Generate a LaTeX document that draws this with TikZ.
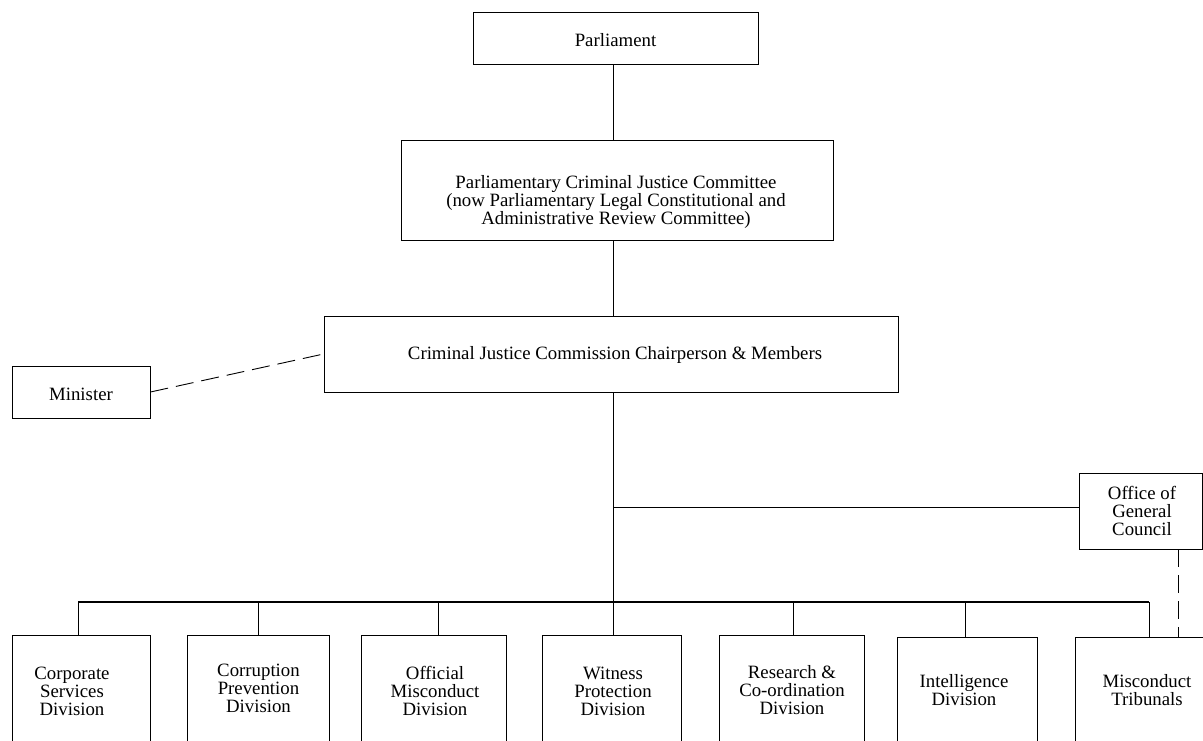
\documentclass[tikz,border=0pt]{standalone}
\usepackage{fontspec}
\setmainfont{Liberation Serif}
\begin{document}
\begin{tikzpicture}[x=1pt,y=-1pt,
  box/.style={draw=black, line width=0.9pt, inner sep=0pt, rectangle},
  txt/.style={inner sep=0pt, align=center, font=\fontsize{18.8}{18}\selectfont},
  link/.style={draw=black, line width=0.9pt},
  busline/.style={draw=black, line width=1.6pt},
  dashlink/.style={draw=black, line width=0.9pt, dash pattern=on 18pt off 8pt}]
\useasboundingbox (0,0) rectangle (1203,740);
\clip (0,0) rectangle (1203,740);

% boxes
\node[box, minimum width=285pt, minimum height=52pt] (parl) at (615.5,38) {};
\node[box, minimum width=432pt, minimum height=100pt] (pcjc) at (617,190) {};
\node[box, minimum width=574pt, minimum height=76pt] (cjc) at (611,354) {};
\node[box, minimum width=138pt, minimum height=52pt] (min) at (81,392) {};
\node[box, minimum width=123pt, minimum height=76pt] (ogc) at (1140.5,511) {};
\node[box, minimum width=138pt, minimum height=110pt] (cs) at (81,690) {};
\node[box, minimum width=142pt, minimum height=110pt] (cp) at (258,690) {};
\node[box, minimum width=145pt, minimum height=110pt] (om) at (433.5,690) {};
\node[box, minimum width=139pt, minimum height=110pt] (wp) at (611.5,690) {};
\node[box, minimum width=145pt, minimum height=110pt] (rc) at (791.5,690) {};
\node[box, minimum width=140pt, minimum height=108pt] (id) at (967,691) {};
\node[box, minimum width=146pt, minimum height=108pt] (mt) at (1148,691) {};

% texts
\node[txt] (parl-t) at (615.5,40) {Parliament};
\node[txt] (pcjc-t) at (616,202) {Parliamentary Criminal Justice Committee\\(now Parliamentary Legal Constitutional and\\Administrative Review Committee)};
\node[txt] (cjc-t) at (615,355) {Criminal Justice Commission Chairperson \& Members};
\node[txt] (min-t) at (81,394) {Minister};
\node[txt] (ogc-t) at (1142,511) {Office of\\General\\Council};
\node[txt] (cs-t) at (72,691) {Corporate\\Services\\Division};
\node[txt] (cp-t) at (258.5,688) {Corruption\\Prevention\\Division};
\node[txt] (om-t) at (435,691) {Official\\Misconduct\\Division};
\node[txt] (wp-t) at (613,691) {Witness\\Protection\\Division};
\node[txt] (rc-t) at (792,690) {Research \&\\Co-ordination\\Division};
\node[txt] (id-t) at (964,690) {Intelligence\\Division};
\node[txt] (mt-t) at (1147,690) {Misconduct\\Tribunals};

% helper coordinates
\coordinate (tx) at (613,0);
\coordinate (og) at (613,507);
\coordinate (dx) at (1178,0);
\coordinate (b1) at (78,602);
\coordinate (b2) at (258,602);
\coordinate (b3) at (438,602);
\coordinate (b4) at (613,602);
\coordinate (b5) at (793,602);
\coordinate (b6) at (965,602);
\coordinate (b7) at (1149,602);

% connectors
\draw[link] (parl.south -| tx) -- (pcjc.north -| tx);
\draw[link] (pcjc.south -| tx) -- (cjc.north -| tx);
\draw[link] (cjc.south -| tx) -- (b4);
\draw[link] (og) -- (og -| ogc.west);
\draw[dashlink] (min.east) -- (cjc.west);
\draw[dashlink] (ogc.south -| dx) -- (mt.north -| dx);
\draw[busline] (b1) -- (b7);
\draw[link] (b1) -- (b1 |- cs.north);
\draw[link] (b2) -- (b2 |- cp.north);
\draw[link] (b3) -- (b3 |- om.north);
\draw[link] (b4) -- (b4 |- wp.north);
\draw[link] (b5) -- (b5 |- rc.north);
\draw[link] (b6) -- (b6 |- id.north);
\draw[link] (b7) -- (b7 |- mt.north);
\end{tikzpicture}
\end{document}
